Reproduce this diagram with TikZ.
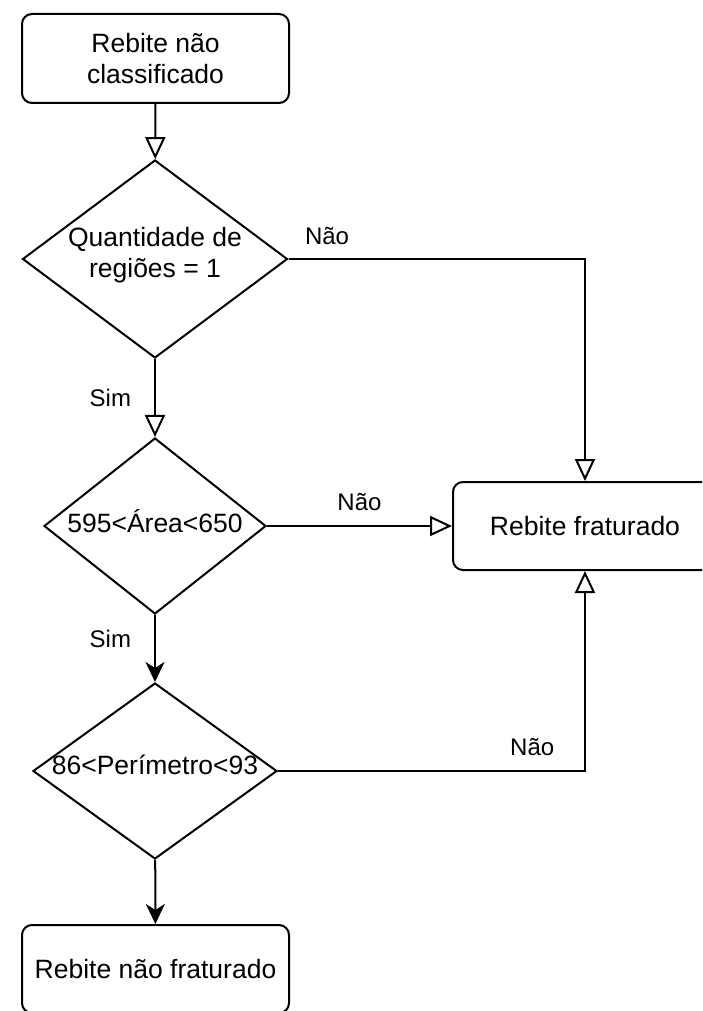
\documentclass[tikz,border=0pt]{standalone}
\usepackage{fontspec}
\setmainfont{Liberation Sans}
\usepackage{tikz}
\usetikzlibrary{arrows.meta, shapes.geometric}

\tikzset{
  block/.style={draw, rounded corners=10pt, line width=2pt, inner sep=0pt,
    align=center, font=\fontsize{26.5}{31}\selectfont},
  decision/.style={draw, diamond, line width=2pt, inner sep=0pt},
  dtext/.style={align=center, inner sep=0pt, font=\fontsize{26.5}{31}\selectfont},
  lbl/.style={inner sep=0pt, font=\fontsize{24}{28}\selectfont},
  openarrow/.style={line width=2pt, -{Triangle[open, length=22pt, width=20pt]}},
  fullarrow/.style={line width=2pt, -{Stealth[length=20pt, width=19pt, inset=6pt]}},
}

\begin{document}
\begin{tikzpicture}[x=1pt, y=-1pt]
  \clip (0,0) rectangle (702,1011);
  % boxes
  \node[block, minimum width=267pt, minimum height=89pt] (start) at (155.5,58.5) {Rebite não\\classificado};
  \node[block, minimum width=264pt, minimum height=88pt] (fract) at (585,526) {Rebite fraturado};
  \node[block, minimum width=267pt, minimum height=88pt] (intact) at (155.5,969) {Rebite não fraturado};
  % decisions
  \node[decision, minimum width=265pt, minimum height=198pt,
    label={[dtext, yshift=4pt]center:Quantidade de\\regiões = 1}] (qtd) at (155,259) {};
  \node[decision, minimum width=222pt, minimum height=176pt,
    label={[dtext, yshift=5pt]center:595<Área<650}] (area) at (155,526) {};
  \node[decision, minimum width=244pt, minimum height=176pt,
    label={[dtext, yshift=6pt]center:86<Perímetro<93}] (perim) at (155,771) {};

  \draw[openarrow] (start) -- (qtd);
  \draw[openarrow] (qtd) -- node[lbl, pos=0.5, left=23pt] (sim1) {Sim} (area);
  \draw[fullarrow] (area) -- node[lbl, pos=0.35, left=23pt] (sim2) {Sim} (perim);
  \draw[fullarrow] (perim) -- (intact);

  \draw[openarrow] (qtd.east) -| node[lbl, pos=0.065, above=13pt] (nao1) {Não} (fract.north);
  \draw[openarrow] (area) -- node[lbl, pos=0.5, above=14pt] (nao2) {Não} (fract);
  \draw[openarrow] (perim.east) -| node[lbl, pos=0.414, above=14pt] (nao3) {Não} (fract.south);
\end{tikzpicture}
\end{document}
